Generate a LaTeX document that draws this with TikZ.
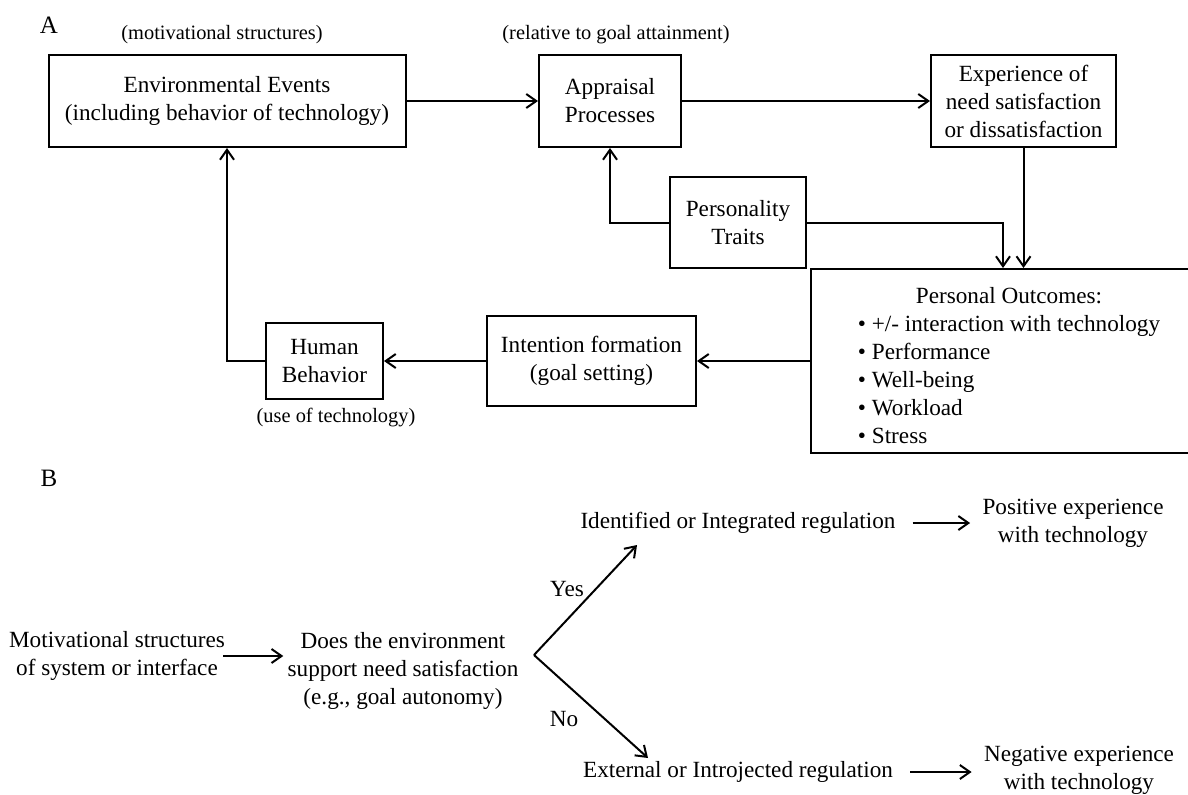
\documentclass[tikz,border=0pt]{standalone}
\usepackage{fontspec}
\setmainfont{Liberation Serif}
\usetikzlibrary{
    arrows.meta,
    positioning,
    calc
}
\newcommand{\diagfont}{\fontsize{11.6}{14}\selectfont}
\newcommand{\notefont}{\fontsize{10.2}{12}\selectfont}
\tikzset{
    % Arrows
    arrow tip/.tip={Straight Barb[length=5pt,width=7pt]},
    arr/.style={->,>={arrow tip},line width=1pt},
    %
    % Nodes
    box/.style={draw,line width=1pt,align=center,inner sep=2pt},
    plain text/.style={align=center,inner sep=2pt},
    note/.style={font=\notefont},
    panel label/.style={font=\fontsize{12.5}{14}\selectfont}
}
\tikzstyle{every node}=[font=\diagfont]

\begin{document}
\begin{tikzpicture}[x=0.5pt,y=-0.5pt]
        \useasboundingbox (0,0) rectangle (1188,794);
        % Panel A
        \node[panel label] (A) at (49,25) {A};
        \node[box,minimum width=178.5pt,minimum height=46pt] (env) at (227,101) {Environmental Events\\(including behavior of technology)};
        \node[box,minimum width=71pt,minimum height=46pt] (appr) at (610,101) {Appraisal\\Processes};
        \node[box,minimum width=92.5pt,minimum height=46pt] (exp) at (1023.5,101) {Experience of\\need satisfaction\\or dissatisfaction};
        \node[box,minimum width=68pt,minimum height=45.5pt] (pers) at (738,222.5) {Personality\\Traits};
        \node[box,inner ysep=0pt,minimum width=198pt,minimum height=92pt] (outc) at (1009,361) {%
            \begin{tabular}{@{}l@{}}
                \multicolumn{1}{c}{\rule{0pt}{16.8pt}Personal Outcomes:}\\
                \textbullet\ +/- interaction with technology\\
                \textbullet\ Performance\\
                \textbullet\ Well-being\\
                \textbullet\ Workload\\
                \textbullet\ Stress
            \end{tabular}};
        \node[box,minimum width=104.5pt,minimum height=45pt] (intent) at (591.5,361) {Intention formation\\(goal setting)};
        \node[box,minimum width=58.5pt,minimum height=38pt] (human) at (324.5,361) {Human\\Behavior};
        \node[note] (motnote) at (222,35) {(motivational structures)};
        \node[note] (goalnote) at (616,35) {(relative to goal attainment)};
        \node[note] (usenote) at (336,418) {(use of technology)};
        \draw[arr] (env) -- (appr);
        \draw[arr] (appr) -- (exp);
        \draw[arr] (exp.south) -- (exp.south |- outc.north);
        \draw[arr] (pers.east) -| ([xshift=-3pt]outc.north);
        \draw[arr] (pers.west) -| (appr.south);
        \draw[arr] (outc.west) -- (intent.east);
        \draw[arr] (intent.west) -- (human.east);
        \draw[arr] (human.west) -| (env.south);
        % Panel B
        \node[panel label] (B) at (49,478) {B};
        \node[plain text] (mot) at (117,656) {Motivational structures\\of system or interface};
        \node[plain text] (does) at (403,671) {Does the environment\\support need satisfaction\\(e.g., goal autonomy)};
        \node (iden) at (738,523) {Identified or Integrated regulation};
        \node (ext) at (738,772) {External or Introjected regulation};
        \node[plain text] (pos) at (1073,523) {Positive experience\\with technology};
        \node[plain text] (neg) at (1079,770) {Negative experience\\with technology};
        \node (yes) at (567,589) {Yes};
        \node (no) at (564,719) {No};
        \coordinate (fork) at (534,655);
        \coordinate (yes tip) at (637,545);
        \coordinate (no tip) at (648,758);
        \draw[arr,shorten <=-3pt] (mot.east) -- (mot.east -| does.west);
        \draw[arr] (fork) -- (yes tip);
        \draw[arr] (fork) -- (no tip);
        \draw[arr,shorten <=5pt,shorten >=4pt] (iden.east) -- (pos.west |- iden.east);
        \draw[arr,shorten <=5pt,shorten >=4pt] (ext.east) -- (neg.west |- ext.east);
    \end{tikzpicture}
\end{document}
